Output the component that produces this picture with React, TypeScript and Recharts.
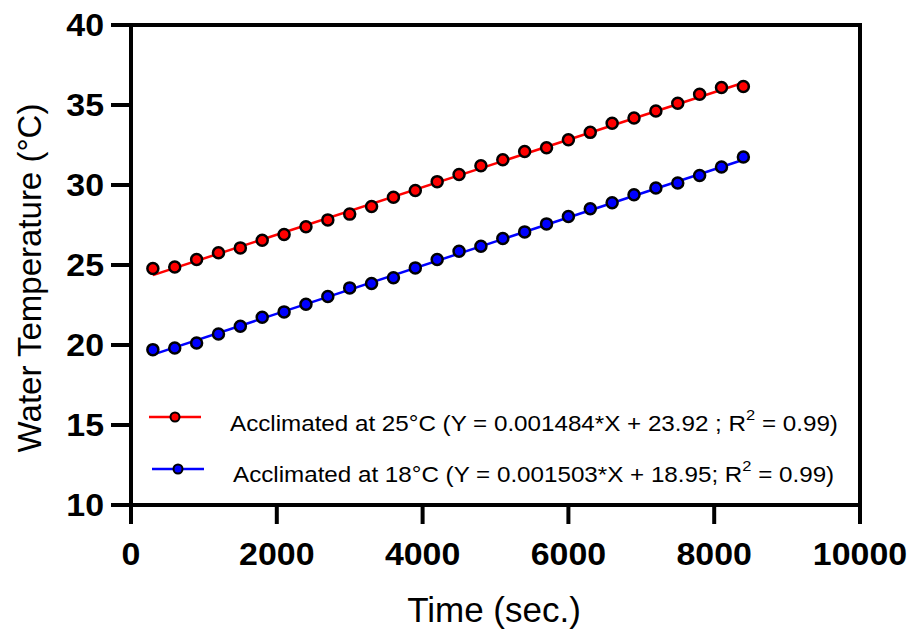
import {
  ComposedChart,
  Line,
  ReferenceLine,
  Scatter,
  XAxis,
  YAxis,
} from "recharts";

// time points (sec.)
const timeSec = [
  300, 600, 900, 1200, 1500, 1800, 2100, 2400, 2700, 3000, 3300, 3600, 3900, 4200,
  4500, 4800, 5100, 5400, 5700, 6000, 6300, 6600, 6900, 7200, 7500, 7800, 8100, 8400,
];

// water temperature, acclimated at 25°C
const temp25 = [
  24.78, 24.88, 25.34, 25.76, 26.07, 26.55, 26.9, 27.39, 27.82, 28.18, 28.66, 29.24,
  29.66, 30.21, 30.66, 31.2, 31.58, 32.1, 32.33, 32.83, 33.29, 33.86, 34.19, 34.63,
  35.11, 35.67, 36.09, 36.15,
];

// water temperature, acclimated at 18°C
const temp18 = [
  19.71, 19.81, 20.12, 20.69, 21.17, 21.73, 22.07, 22.55, 23.03, 23.57, 23.84, 24.2,
  24.82, 25.34, 25.86, 26.17, 26.65, 27.07, 27.57, 28.03, 28.51, 28.89, 29.39, 29.81,
  30.12, 30.6, 31.12, 31.75,
];

// regression line end points
const fitTime = [300, 8400];
const fit25 = [24.37, 36.39];
const fit18 = [19.4, 31.58];

const xTicks = [0, 2000, 4000, 6000, 8000, 10000];
const yTicks = [10, 15, 20, 25, 30, 35, 40];

const pts25 = timeSec.map((t, i) => ({ x: t, y: temp25[i] }));
const pts18 = timeSec.map((t, i) => ({ x: t, y: temp18[i] }));
const line25 = fitTime.map((t, i) => ({ x: t, y: fit25[i] }));
const line18 = fitTime.map((t, i) => ({ x: t, y: fit18[i] }));

const FONT = "'Liberation Sans', Arial, Helvetica, sans-serif";
const RED = "#ff0000";
const BLUE = "#0000ff";

const dotShape = (fill: string) => (props: any) =>
  <circle cx={props.cx} cy={props.cy} r={5.5} fill={fill} stroke="#000" strokeWidth={2.5} />;

// slightly wide bold tick text, like the original
const BoldTick = ({ x, y, payload, anchor, dy }: any) => (
  <text
    transform={`translate(${x}, ${y}) scale(1.06, 1)`}
    textAnchor={anchor}
    dy={dy}
    fontFamily={FONT}
    fontSize={32}
    fontWeight="bold"
    fill="#000"
  >
    {payload.value}
  </text>
);

const LegendRow = ({ color, x1, x2, lineY, textX, textY, label, tail }: any) => (
  <g>
    <line x1={x1} x2={x2} y1={lineY} y2={lineY} stroke={color} strokeWidth={2.5} />
    <circle cx={(x1 + x2) / 2} cy={lineY} r={4.5} fill={color} stroke="#000" strokeWidth={2} />
    <text
      transform={`translate(${textX}, ${textY}) scale(1.1, 1)`}
      fontFamily={FONT}
      fontSize={22}
      fill="#000"
    >
      {label}
      <tspan fontSize={15} dy={-11}>2</tspan>
      <tspan dy={11}>{tail}</tspan>
    </text>
  </g>
);

const ChartLegend = () => (
  <g>
    <LegendRow
      color={RED}
      x1={149}
      x2={201}
      lineY={417}
      textX={230}
      textY={431}
      label="Acclimated at 25°C (Y = 0.001484*X + 23.92 ; R"
      tail=" = 0.99)"
    />
    <LegendRow
      color={BLUE}
      x1={152}
      x2={204}
      lineY={469}
      textX={233}
      textY={482}
      label="Acclimated at 18°C (Y = 0.001503*X + 18.95; R"
      tail=" = 0.99)"
    />
  </g>
);

const AxisTitles = () => (
  <g>
    <text x={494} y={622} textAnchor="middle" fontFamily={FONT} fontSize={35} fill="#000">
      Time (sec.)
    </text>
    <text
      transform="translate(41, 278) rotate(-90)"
      textAnchor="middle"
      fontFamily={FONT}
      fontSize={33}
      fill="#000"
    >
      Water Temperature (°C)
    </text>
  </g>
);

export default function App() {
  return (
    <div style={{ position: "absolute", left: 0, top: 0, background: "#fff" }}>
      <ComposedChart
        width={914}
        height={633}
        margin={{ top: 25, right: 54, left: 0, bottom: 0 }}
      >
        <XAxis
          type="number"
          dataKey="x"
          domain={[0, 10000]}
          ticks={xTicks}
          interval={0}
          height={128}
          tickSize={19}
          tickMargin={18}
          axisLine={{ stroke: "#000", strokeWidth: 4, strokeLinecap: "square" }}
          tickLine={{ stroke: "#000", strokeWidth: 4 }}
          tick={(p: any) => <BoldTick {...p} anchor="middle" dy="0.71em" />}
        />
        <YAxis
          type="number"
          dataKey="y"
          domain={[10, 40]}
          ticks={yTicks}
          interval={0}
          width={131}
          tickSize={20}
          tickMargin={7}
          axisLine={{ stroke: "#000", strokeWidth: 4, strokeLinecap: "square" }}
          tickLine={{ stroke: "#000", strokeWidth: 4 }}
          tick={(p: any) => <BoldTick {...p} anchor="end" dy="0.355em" />}
        />
        <ReferenceLine y={40} stroke="#000" strokeWidth={4} strokeLinecap="square" />
        <ReferenceLine x={10000} stroke="#000" strokeWidth={4} strokeLinecap="square" />
        <Line
          data={line25}
          dataKey="y"
          type="linear"
          stroke={RED}
          strokeWidth={2.5}
          dot={false}
          isAnimationActive={false}
        />
        <Line
          data={line18}
          dataKey="y"
          type="linear"
          stroke={BLUE}
          strokeWidth={2.5}
          dot={false}
          isAnimationActive={false}
        />
        <Scatter data={pts25} dataKey="y" shape={dotShape(RED)} isAnimationActive={false} />
        <Scatter data={pts18} dataKey="y" shape={dotShape(BLUE)} isAnimationActive={false} />
        <ChartLegend />
        <AxisTitles />
      </ComposedChart>
    </div>
  );
}
